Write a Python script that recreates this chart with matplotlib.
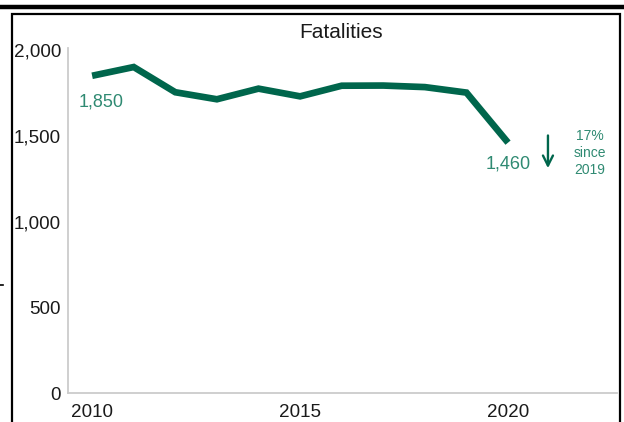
import matplotlib
matplotlib.use("Agg")
import matplotlib.pyplot as plt
from matplotlib.lines import Line2D

years = [2010, 2011, 2012, 2013, 2014, 2015, 2016, 2017, 2018, 2019, 2020]
fatalities = [1850, 1901, 1754, 1713, 1775, 1730, 1792, 1793, 1784, 1752, 1460]
yticks = [0, 500, 1000, 1500, 2000]
ytick_labels = ["0", "500", "1,000", "1,500", "2,000"]
xticks = [2010, 2015, 2020]
xtick_labels = ["2010", "2015", "2020"]
title = "Fatalities"
change_text = "17%\nsince\n2019"

plt.rcParams['font.family'] = ['Liberation Sans', 'DejaVu Sans']

W, H = 624, 422
fig = plt.figure(figsize=(W / 100, H / 100), dpi=100)

# frame decorations
fig.add_artist(Line2D([0, 622 / W], [1 - 7 / H] * 2, color='black', lw=3.2, transform=fig.transFigure))
fig.add_artist(Line2D([11.5 / W, 11.5 / W, 620 / W, 620 / W],
                      [0, 1 - 13.5 / H, 1 - 13.5 / H, 0], color='black', lw=1.6,
                      transform=fig.transFigure, solid_joinstyle='miter'))
fig.add_artist(Line2D([0, 3 / W], [1 - 285 / H] * 2, color='black', lw=1.2, transform=fig.transFigure))

line_color = '#00664c'
label_color = '#2f8a72'

ax = fig.add_axes([68 / W, 1 - 393 / H, (617 - 68) / W, (393 - 48) / H])
ax.plot(years, fatalities, color=line_color, lw=4.8, solid_capstyle='butt', solid_joinstyle='miter')
ax.set_xlim(2009.42, 2022.62)
ax.set_ylim(0, 2012)
ax.set_yticks(yticks)
ax.set_yticklabels(ytick_labels)
ax.set_xticks(xticks)
ax.set_xticklabels(xtick_labels)
ax.tick_params(length=0, labelsize=13.6, colors='#1a1a1a')
ax.tick_params(axis='y', pad=5)
ax.tick_params(axis='x', pad=8)
for s in ['top', 'right']:
    ax.spines[s].set_visible(False)
for s in ['left', 'bottom']:
    ax.spines[s].set_color('#cccccc')
    ax.spines[s].set_linewidth(1.3)

# value labels
ax.annotate(f"{fatalities[0]:,}", (years[0], fatalities[0]), xytext=(9, -26),
            textcoords='offset pixels', ha='center', va='center', fontsize=13, color=label_color)
ax.annotate(f"{fatalities[-1]:,}", (years[-1], fatalities[-1]), xytext=(0, -21),
            textcoords='offset pixels', ha='center', va='center', fontsize=13, color=label_color)

# change arrow
ax.annotate("", xy=(years[-1] + 0.96, 1295), xytext=(years[-1] + 0.96, 1518),
            arrowprops=dict(arrowstyle='->', color=line_color, lw=1.7, mutation_scale=18))
ax.text(years[-1] + 1.97, 1400, change_text, ha='center', va='center', fontsize=10,
        color=label_color, linespacing=1.25)

fig.text(341 / W, 1 - 32.5 / H, title, ha='center', va='center', fontsize=15, color='#1a1a1a')

fig.savefig("out.png", dpi=100)
